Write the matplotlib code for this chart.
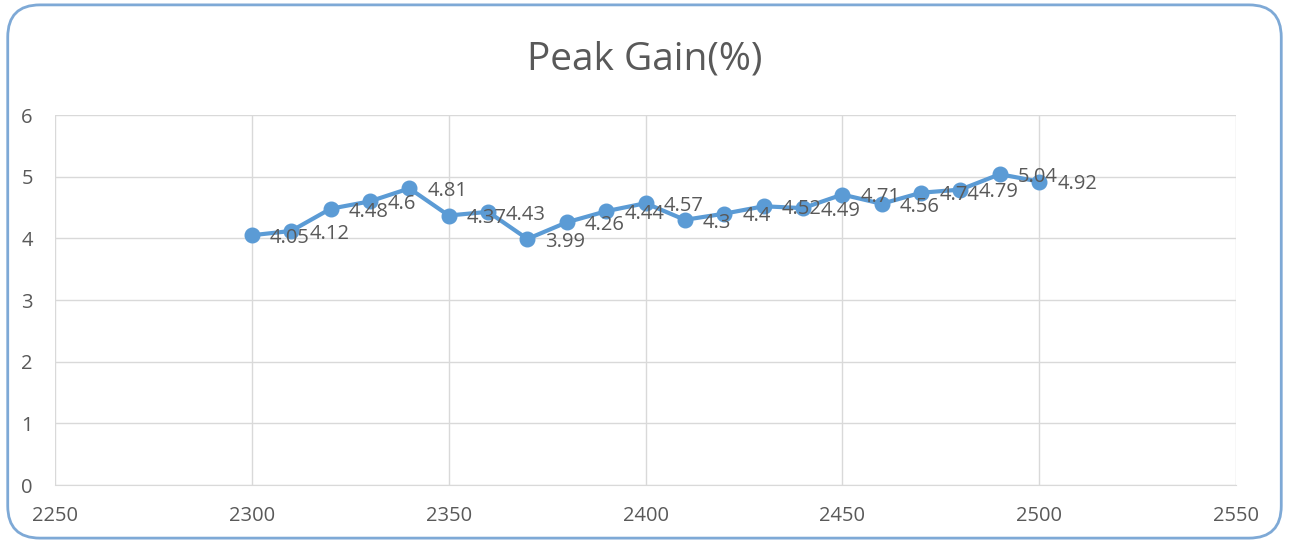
import matplotlib
matplotlib.use("Agg")
import matplotlib.pyplot as plt
from matplotlib.patches import FancyBboxPatch

freq = [2300, 2310, 2320, 2330, 2340, 2350, 2360, 2370, 2380, 2390, 2400,
        2410, 2420, 2430, 2440, 2450, 2460, 2470, 2480, 2490, 2500]
gain = [4.05, 4.12, 4.48, 4.6, 4.81, 4.37, 4.43, 3.99, 4.26, 4.44, 4.57,
        4.3, 4.4, 4.52, 4.49, 4.71, 4.56, 4.74, 4.79, 5.04, 4.92]
title = "Peak Gain(%)"
x_ticks = [2250, 2300, 2350, 2400, 2450, 2500, 2550]
y_ticks = [0, 1, 2, 3, 4, 5, 6]

plt.rcParams['font.family'] = ['Open Sans', 'DejaVu Sans']
txt = '#595959'
blue = '#5B9BD5'

fig = plt.figure(figsize=(12.89, 5.43), dpi=100)
fig.patch.set_facecolor('white')
border = FancyBboxPatch((0.006, 0.009), 0.988, 0.982,
                        boxstyle="round,pad=0,rounding_size=0.025",
                        transform=fig.transFigure, facecolor='none',
                        edgecolor='#7EA9D6', linewidth=2, mutation_aspect=1289/543)
fig.patches.append(border)

ax = fig.add_axes([0.0427, 0.1068, 0.9162, 0.6814])
ax.set_facecolor('none')
ax.plot(freq, gain, color=blue, linewidth=3, marker='o', markersize=10.5,
        markerfacecolor=blue, markeredgecolor=blue, zorder=3)
for x, y in zip(freq, gain):
    ax.annotate(f"{y:g}", (x, y), xytext=(13, -2), textcoords='offset points',
                va='center', ha='left', fontsize=14.5, color=txt, zorder=4)

ax.set_xlim(2250, 2550)
ax.set_ylim(0, 6)
ax.set_xticks(x_ticks)
ax.set_yticks(y_ticks)
ax.grid(True, color='#D9D9D9', linewidth=1)
ax.set_axisbelow(True)
for s in ['top', 'right', 'left']:
    ax.spines[s].set_visible(False)
ax.spines['bottom'].set_color('#D9D9D9')
ax.tick_params(length=0, labelsize=14.5, colors=txt)
ax.tick_params(axis='x', pad=15)
ax.tick_params(axis='y', pad=16)

fig.text(0.5, 0.89, title, ha='center', va='center', fontsize=28, color=txt)

fig.savefig('out.png', dpi=100)
